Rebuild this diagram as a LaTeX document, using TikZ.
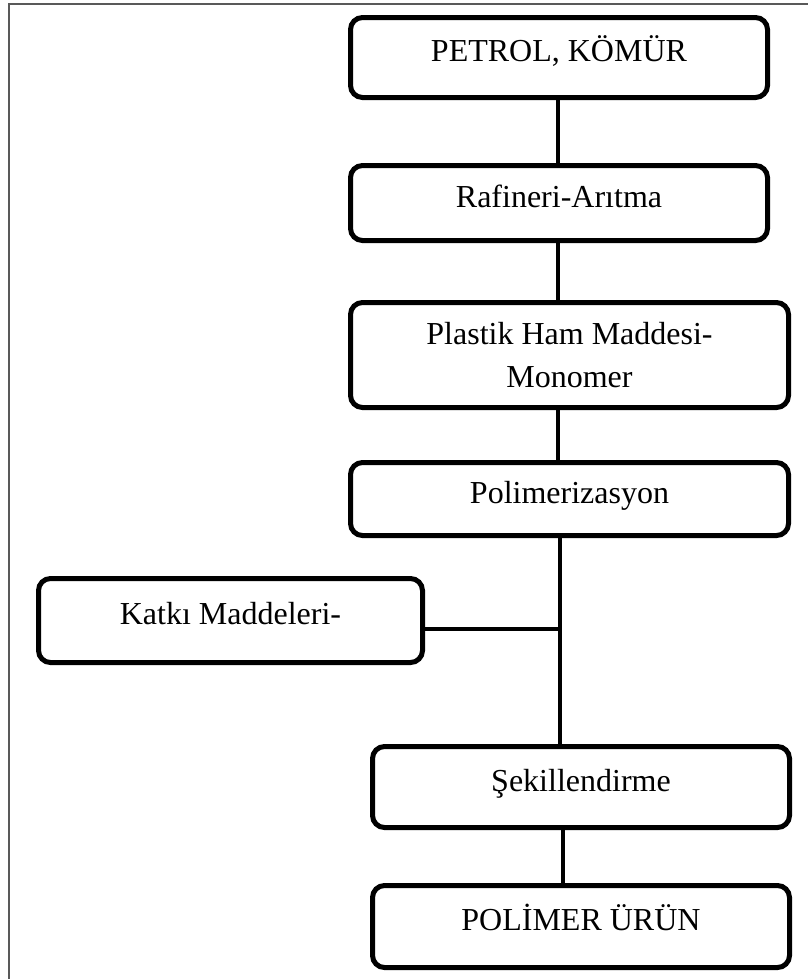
\documentclass[tikz,border=0pt]{standalone}
\usepackage{fontspec}
\setmainfont{Liberation Serif}

\tikzset{
    stepbox/.style={draw, line width=3.75pt, rounded corners=9pt, align=center,
        font=\fontsize{24}{32}\selectfont, inner sep=0pt},
    oneline/.style={text height=16pt, text depth=10pt},
    link/.style={line width=3pt},
    sheet/.style={draw=black!65, line width=1.1pt}
}

\begin{document}
\begin{tikzpicture}[x=0.75pt, y=-0.75pt]
    \useasboundingbox (0, 0) rectangle (808, 979);
    \draw[sheet] (9, 979) -- (9, 4) -- (808, 4);

    \coordinate (upper) at (558, 0);
    \coordinate (mid) at (560, 0);
    \coordinate (lower) at (563, 0);
    \coordinate (join) at (560, 629);

    \node[stepbox, oneline, minimum width=312.75pt, minimum height=60pt] (petrol) at (559, 57.5) {PETROL, KÖMÜR};
    \node[stepbox, oneline, minimum width=312.75pt, minimum height=56.25pt] (rafineri) at (559, 203) {Rafineri-Arıtma};
    \node[stepbox, minimum width=328.5pt, minimum height=78.75pt] (hammadde) at (569.5, 355) {Plastik Ham Maddesi-\\Monomer};
    \node[stepbox, oneline, minimum width=328.5pt, minimum height=54.75pt] (polimer) at (569.5, 499) {Polimerizasyon};
    \node[stepbox, oneline, minimum width=288pt, minimum height=63pt] (katki) at (230.5, 620.5) {Katkı Maddeleri-};
    \node[stepbox, oneline, minimum width=312.75pt, minimum height=60.75pt] (sekil) at (581, 787) {Şekillendirme};
    \node[stepbox, oneline, minimum width=312.75pt, minimum height=61.5pt] (urun) at (581, 926.5) {POLİMER ÜRÜN};

    \draw[link] (petrol.south -| upper) -- (rafineri.north -| upper);
    \draw[link] (rafineri.south -| upper) -- (hammadde.north -| upper);
    \draw[link] (hammadde.south -| upper) -- (polimer.north -| upper);
    \draw[link] (polimer.south -| mid) -- (sekil.north -| mid);
    \draw[link] (katki.east |- join) -- (join);
    \draw[link] (sekil.south -| lower) -- (urun.north -| lower);
\end{tikzpicture}
\end{document}
